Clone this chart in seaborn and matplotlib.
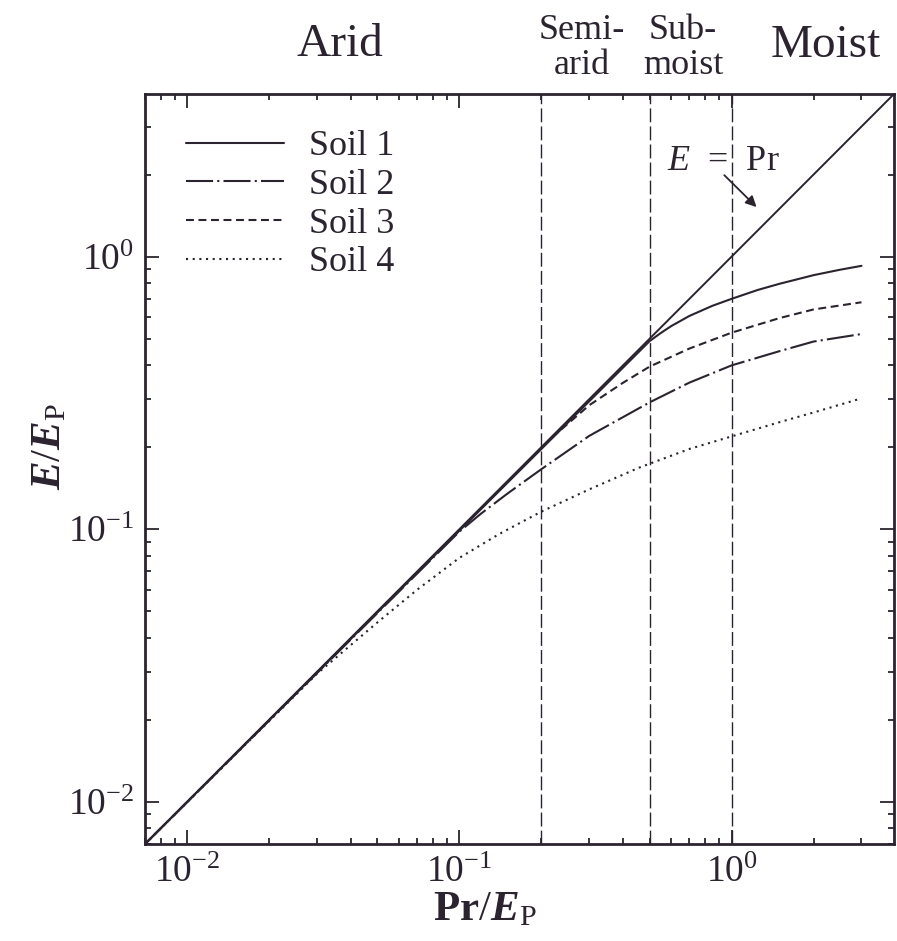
import numpy as np
import pandas as pd
import matplotlib
matplotlib.use("Agg")
import matplotlib.pyplot as plt
import seaborn as sns

# ---------------- data ----------------
soil1_x = [0.007, 0.5, 0.55, 0.6, 0.7, 0.85, 1.0, 1.25, 1.5, 2.0, 2.5, 3.0]
soil1_y = [0.007, 0.49, 0.525, 0.556, 0.606, 0.66, 0.70, 0.755, 0.795, 0.855, 0.895, 0.925]

soil2_x = [0.007, 0.1, 0.12, 0.15, 0.2, 0.3, 0.5, 0.7, 1.0, 1.5, 2.0, 3.0]
soil2_y = [0.007, 0.098, 0.114, 0.135, 0.166, 0.22, 0.292, 0.345, 0.399, 0.45, 0.488, 0.52]

soil3_x = [0.007, 0.22, 0.3, 0.4, 0.5, 0.7, 1.0, 1.5, 2.0, 3.0]
soil3_y = [0.007, 0.218, 0.285, 0.345, 0.395, 0.46, 0.526, 0.595, 0.64, 0.68]

soil4_x = [0.007, 0.03, 0.05, 0.07, 0.1, 0.14, 0.2, 0.3, 0.456, 0.7, 1.0, 1.5, 2.0, 3.0]
soil4_y = [0.007, 0.0295, 0.0455, 0.060, 0.0785, 0.096, 0.116, 0.14, 0.168, 0.197, 0.219, 0.247, 0.268, 0.302]

soil_names = ["Soil 1", "Soil 2", "Soil 3", "Soil 4"]

one_to_one = [0.007, 4.0]          # E = Pr line (y = x)
zone_bounds = [0.2, 0.5, 1.0]      # vertical dashed boundaries
zone_labels = ["Arid", "Semi-\narid", "Sub-\nmoist", "Moist"]

# ---------------- style ----------------
sns.set_theme(style="ticks")
INK = "#2b2430"
plt.rcParams.update({
    "font.family": ["Liberation Serif", "DejaVu Serif"],
    "mathtext.fontset": "custom",
    "mathtext.rm": "Liberation Serif",
    "mathtext.it": "Liberation Serif:italic",
    "mathtext.bf": "Liberation Serif:bold",
    "mathtext.bfit": "Liberation Serif:italic:bold",
    "axes.edgecolor": INK,
    "text.color": INK,
    "xtick.color": INK,
    "ytick.color": INK,
    "axes.labelcolor": INK,
})

frames = []
for name, xs, ys in zip(soil_names, [soil1_x, soil2_x, soil3_x, soil4_x],
                        [soil1_y, soil2_y, soil3_y, soil4_y]):
    frames.append(pd.DataFrame({"x": xs, "y": ys, "soil": name}))
df = pd.concat(frames, ignore_index=True)

W, H = 897, 941
fig = plt.figure(figsize=(W / 100, H / 100), dpi=100)
fig.patch.set_facecolor("white")
ax = fig.add_axes([145 / W, 1 - 844 / H, (894 - 145) / W, (844 - 94) / H])
ax.set_facecolor("white")

# zone boundaries
for b in zone_bounds:
    ax.axvline(b, color=INK, lw=1.0, dashes=(10, 3), zorder=1)

# 1:1 line
sns.lineplot(x=one_to_one, y=one_to_one, ax=ax, color=INK, lw=1.4,
             legend=False, zorder=2)

dash_map = {"Soil 1": "", "Soil 2": (13, 2.0, 1.0, 2.0),
            "Soil 3": (3.8, 2.2), "Soil 4": (1.0, 2.2)}
sns.lineplot(data=df, x="x", y="y", style="soil", style_order=soil_names,
             dashes=dash_map, color=INK, lw=1.5, ax=ax, sort=False,
             estimator=None, zorder=3)

ax.set_xscale("log")
ax.set_yscale("log")
ax.set_xlim(0.007, 3.95)
ax.set_ylim(0.007, 3.95)

for s in ax.spines.values():
    s.set_linewidth(2.0)
    s.set_color(INK)

ax.tick_params(which="both", direction="in", top=True, right=True,
               width=1.3, color=INK)
ax.tick_params(which="major", length=10, labelsize=27, pad=8)
ax.tick_params(which="minor", length=4.5)

ax.set_xlabel(r"$\mathbf{Pr}/\mathbfit{E}_{\mathrm{P}}$", fontsize=31)
ax.set_ylabel(r"$\mathbfit{E}/\mathbfit{E}_{\mathrm{P}}$", fontsize=31)
ax.xaxis.set_label_coords(0.454, -0.063)
ax.yaxis.set_label_coords(-0.101, 0.53)

# legend
leg = ax.legend(loc="upper left", bbox_to_anchor=(0.055, 0.952), frameon=False,
                fontsize=26, handlelength=2.7, handletextpad=0.7,
                labelspacing=0.15, borderpad=0, borderaxespad=0)
for line in leg.get_lines():
    line.set_linewidth(1.5)
    line.set_color(INK)

# annotation E = Pr
ax.text(0.93, 2.24, r"$E$  =  Pr", fontsize=26, ha="center", va="center", color=INK)
ax.annotate("", xy=(1.235, 1.52), xytext=(0.94, 1.99),
            arrowprops=dict(arrowstyle="-|>", lw=1.3, color=INK,
                            mutation_scale=16, shrinkA=0, shrinkB=0))

# zone labels above the plot
fig.text(340 / W, 1 - 45 / H, zone_labels[0], fontsize=34, ha="center", va="center")
fig.text(582 / W, 1 - 48 / H, zone_labels[1], fontsize=26, ha="center", va="center",
         linespacing=1.05)
fig.text(683 / W, 1 - 48 / H, zone_labels[2], fontsize=26, ha="center", va="center",
         linespacing=1.05)
fig.text(826 / W, 1 - 46 / H, zone_labels[3], fontsize=34, ha="center", va="center")

fig.savefig("out.png", dpi=100, facecolor="white")
